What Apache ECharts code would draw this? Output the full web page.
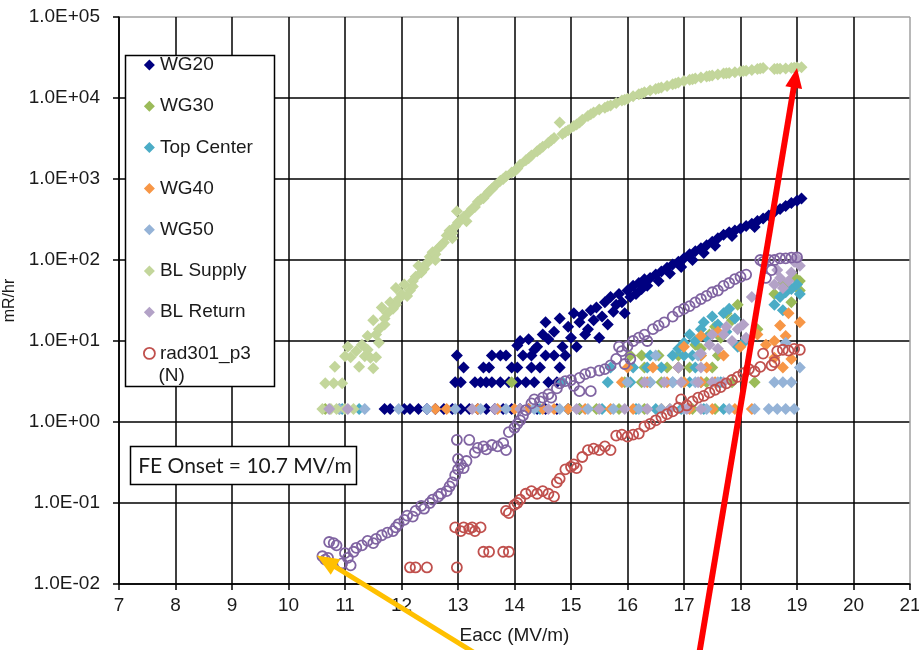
<!DOCTYPE html>
<html>
<head>
<meta charset="utf-8">
<script src="https://cdn.jsdelivr.net/npm/echarts@6/dist/echarts.min.js"></script>
<style>html,body{margin:0;padding:0;background:#fff}#c{width:919px;height:650px}</style>
</head>
<body>
<div id="c"></div>
<script>
// ---- data (x: Eacc MV/m, y: mR/hr) ----
const seriesNames = ['WG20','WG30','Top Center','WG40','WG50','BL Supply','BL Return','rad301_p3 (N)'];
const xTicks = [7,8,9,10,11,12,13,14,15,16,17,18,19,20,21];
const yTickExps = [-2,-1,0,1,2,3,4,5];

const wg20 = [
[11.7,1.45],[11.8,1.45],[12.05,1.45],[12.15,1.45],[12.3,1.45],[12.45,1.45],[12.6,1.45],[12.75,1.45],[12.9,1.45],[13.05,1.45],[13.2,1.45],[13.35,1.45],[13.5,1.45],[13.65,1.45],[13.8,1.45],[13.95,1.45],[14.1,1.45],[14.25,1.45],[14.4,1.45],[14.55,1.45],[14.75,1.45],[14.95,1.45],[15.15,1.45],
[12.95,3.1],[13.05,3.1],[13.3,3.1],[13.4,3.1],[13.5,3.1],[13.6,3.1],[13.75,3.1],[13.9,3.1],[14.05,3.1],[14.2,3.1],[14.35,3.1],[14.6,3.1],[14.75,3.1],
[13.1,4.7],[13.45,4.7],[13.55,4.7],[13.95,4.7],[14.05,4.7],[14.3,4.7],[14.45,4.7],[14.8,4.7],
[12.98,6.6],[13.6,6.6],[13.75,6.6],[13.85,6.6],[14.15,6.6],[14.3,6.6],[14.55,6.6],[14.7,6.6],[14.9,6.6],
[14.05,8.8],[14.4,8.5],[14.1,10],[14.35,7.8],[14.5,12],[14.25,10.5],
[14.55,17],[14.6,10.5],[14.7,13],[14.8,19],[14.85,8.5],[14.95,15],[15.0,11],[15.05,22],[15.1,8.5],[15.15,17],[15.2,21],[15.25,12],[15.3,14],[15.35,24],[15.4,18],[15.45,26],[15.5,11],[15.55,20],[15.6,30],[15.65,16],[15.7,35],[15.75,23],[15.8,28],[15.85,38],[15.9,30],[15.95,22],[16.0,42],[16.05,35],[16.1,48],[16.15,38],[16.2,52],[16.25,44],[16.3,58],[16.35,48],[16.4,60],[16.5,66],[16.55,55],[16.6,72],[16.7,80],[16.75,68],[16.8,88],[16.9,95],[16.95,82],[17.0,105],[17.1,118],[17.15,100],[17.2,128],[17.3,140],[17.35,122],[17.4,152],[17.5,168],[17.55,150],[17.6,185],[17.7,205],[17.8,220],[17.85,198],[17.9,232],[18.0,245],[18.1,262],[18.2,280],[18.25,255],[18.3,302],[18.4,325],[18.5,355],[18.6,390],[18.7,425],[18.8,465],[18.9,505],[19.0,540],[19.08,575]
];
const wg30 = [
[10.65,1.45],[10.9,1.45],[15.15,1.45],[15.45,1.45],[15.85,1.45],[16.3,1.45],[16.75,1.45],[17.15,1.45],[17.55,1.45],
[13.95,3.1],[15.95,3.1],[16.25,3.1],[16.6,3.1],[17.0,3.1],[17.4,3.1],[17.85,3.1],[18.25,3.1],
[16.3,4.7],[16.7,4.7],[17.1,4.7],[17.5,4.7],
[16.05,6.6],[16.25,6.6],[16.55,6.6],[16.9,6.6],[17.3,6.6],[17.6,6.6],
[17.2,9],[17.3,8],[17.45,12],[17.55,15],[17.65,11],[17.75,22],[17.85,18],[17.95,28],[18.3,14],[18.6,38],[18.75,52],[18.85,45],[18.95,62],[19.05,55],[19.05,42],[18.9,30]
];
const topCenter = [
[10.95,1.45],[11.25,1.45],[14.45,1.45],[14.95,1.45],[15.55,1.45],[16.15,1.45],[16.5,1.45],[16.95,1.45],[17.35,1.45],[17.7,1.45],
[14.85,3.1],[15.65,3.1],[16.05,3.1],[16.4,3.1],[16.8,3.1],[17.1,3.1],[17.3,3.1],[17.65,3.1],
[15.7,4.7],[16.1,4.7],[16.35,4.7],[16.6,4.7],[16.9,4.7],[17.2,4.7],
[16.4,6.6],[16.8,6.6],[17.0,6.6],[17.15,6.6],
[16.9,8],[17.0,9.5],[17.1,12],[17.2,10],[17.3,14],[17.35,17],[17.4,11],[17.5,20],[17.6,16],[17.7,22],[17.8,25],[17.9,19],[17.75,13],[17.95,8.5],[18.05,9.5],[18.6,28],[18.7,35],[18.8,40],[18.9,44],[19.0,50],[19.05,38],[18.75,24]
];
const wg40 = [
[12.6,1.45],[12.8,1.45],[13.35,1.45],[13.7,1.45],[14.0,1.45],[14.25,1.45],[14.5,1.45],[14.7,1.45],[14.95,1.45],[15.25,1.45],[15.7,1.45],[16.1,1.45],[16.6,1.45],[17.1,1.45],[17.5,1.45],[17.9,1.45],[18.2,1.45],
[15.9,3.1],[16.35,3.1],[16.7,3.1],[17.0,3.1],[17.3,3.1],[17.55,3.1],
[16.0,4.7],[16.45,4.7],[16.9,4.7],[17.4,4.7],[18.75,4.7],
[17.3,6.6],[17.7,6.6],
[17.0,8.5],[17.3,11.5],[17.6,13],[18.0,8.5],[18.3,12],[18.45,9],[18.6,10],[18.7,15.5],[18.8,11.5],[18.85,22],[19.05,17],[18.9,6],[18.6,6.2]
];
const wg50 = [
[10.9,1.45],[11.35,1.45],[11.95,1.45],[12.45,1.45],[12.95,1.45],[13.4,1.45],[13.85,1.45],[14.35,1.45],[14.8,1.45],[15.3,1.45],[15.75,1.45],[16.2,1.45],[16.6,1.45],[17.0,1.45],[17.4,1.45],[17.8,1.45],[18.25,1.45],[18.5,1.45],[18.65,1.45],[18.8,1.45],[18.95,1.45],
[16.0,3.1],[16.4,3.1],[16.8,3.1],[17.2,3.1],[17.6,3.1],[18.6,3.1],[18.75,3.1],[18.9,3.1],
[19.05,4.7],[16.5,6.6],[17.25,6.6],[18.8,9.5]
];
const blSupply = [
[10.65,3.0],[10.8,3.0],[10.95,3.0],[10.6,1.45],[10.75,1.45],[10.85,1.45],[11.0,1.45],[11.15,1.45],
[10.82,4.8],[11.0,6.5],[11.1,6.3],[11.2,7.5],[11.05,8.5],[11.3,9.0],[11.35,6.5],[11.45,6.2],[11.5,4.6],[11.25,4.8],[11.4,7.8],[11.6,9.5],[11.55,6.3],[11.4,11.5],[11.6,14],[11.5,18],[11.7,16],[11.75,22],[11.85,25],[11.65,26],[11.8,30],[11.95,33],[12.0,38],[11.9,45],[12.05,50],[12.15,42],[12.2,55],[12.25,62],[12.35,70],[12.3,85],[12.45,92],[12.5,110],[12.55,125],[12.6,118],[12.65,140],[12.75,165],[12.8,200],[12.85,230],[12.9,215],[12.95,260],[13.0,290],[12.98,400],[13.05,310],[13.1,340],[13.2,390],[13.3,450],[13.35,520],[13.4,560],[13.5,640],[13.55,700],[13.65,820],[13.75,950],[13.85,1080],[13.95,1200],[14.05,1350],[14.1,1500],[14.2,1700],[14.3,1950],[14.4,2200],[14.5,2500],[14.6,2800],[14.7,3200],[14.8,5000],[14.85,3600],[14.95,4000],[15.05,4500],[15.15,5000],[15.2,5400],[15.3,6000],[15.4,6600],[15.5,7200],[15.6,7600],[15.7,8100],[15.8,8700],[15.9,9300],[16.0,9800],[16.1,10500],[16.2,11100],[16.3,11800],[16.4,12400],[16.5,12900],[16.6,13500],[16.7,14100],[16.8,14800],[16.9,15500],[17.0,16200],[17.1,16800],[17.2,17400],[17.3,17900],[17.4,18400],[17.5,19000],[17.6,19500],[17.7,20000],[17.8,20400],[17.9,20800],[18.0,21200],[18.1,21700],[18.2,22200],[18.3,22800],[18.4,23400],[18.6,22800],[18.7,23000],[18.8,23200],[18.9,23500],[19.0,23800],[19.08,24000],
[11.55,12],[11.7,19],[11.9,28],[12.1,36],[12.2,47],[12.4,78],[12.6,100],[12.7,150],[12.9,185],[13.15,300],[13.25,430],[13.45,580],[13.6,750],[13.8,1000],[14.0,1250],[14.25,1800],[14.45,2350],[14.65,3000],[14.9,3800],[15.1,4700],[15.35,6300],[15.65,7900],[15.95,9500],[16.25,11400],[16.55,13200],[16.85,15100],[17.15,17100],[17.45,18700],[17.75,20200],[18.05,21500],[18.35,23100],[18.65,22900],[18.95,23600]
];
const blReturn = [
[10.72,1.45],[11.05,1.45],[13.25,1.45],[13.65,1.45],[14.1,1.45],[14.6,1.45],[15.1,1.45],[15.5,1.45],[15.95,1.45],[16.35,1.45],[16.75,1.45],[17.05,1.45],[17.3,1.45],
[16.3,3.1],[16.65,3.1],[16.95,3.1],[17.25,3.1],[17.5,3.1],[17.7,3.1],
[16.9,4.7],[17.3,4.7],
[17.3,7],[17.45,9],[17.6,8],[17.5,12],[17.7,12],[17.75,15],[17.85,10],[17.95,14],[18.05,16],[18.1,11],[18.2,35],[18.6,50],[18.7,60],[18.75,45],[18.85,55],[18.9,70],[18.95,95],[19.0,105],[19.05,85],[18.65,75]
];
const rad301 = [
[12.15,0.016],[12.25,0.016],[12.45,0.016],[12.98,0.016],[12.95,0.05],[13.05,0.045],[13.1,0.05],[13.2,0.048],[13.25,0.05],[13.3,0.045],[13.4,0.05],[13.45,0.025],[13.55,0.025],[13.8,0.025],[13.9,0.025],[13.85,0.08],[13.9,0.075],[14.0,0.095],[14.05,0.1],[14.1,0.11],[14.2,0.13],[14.3,0.14],[14.4,0.13],[14.5,0.14],[14.6,0.13],[14.7,0.12],[14.75,0.18],[14.8,0.2],[14.9,0.26],[15.0,0.28],[15.05,0.3],[15.1,0.27],[15.2,0.37],[15.3,0.45],[15.4,0.47],[15.5,0.45],[15.6,0.5],[15.7,0.45],[15.8,0.68],[15.9,0.7],[16.0,0.66],[16.1,0.7],[16.2,0.72],[16.3,0.88],[16.4,0.95],[16.5,1.05],[16.6,1.15],[16.7,1.25],[16.8,1.35],[16.9,1.5],[16.95,1.9],[17.05,1.6],[17.15,1.8],[17.25,2.0],[17.35,2.1],[17.45,2.3],[17.55,2.5],[17.65,2.7],[17.75,3.0],[17.85,3.3],[17.95,3.6],[18.05,4.0],[18.15,4.5],[18.25,4.2],[18.35,4.8],[18.4,7.0],[18.55,5.0],[18.6,5.5],[18.65,7.5],[18.75,7.8],[18.85,7.6],[18.95,8.0],[19.05,7.8]
];
const rad301b = [
[10.6,0.022],[10.65,0.02],[10.7,0.021],[10.72,0.033],[10.8,0.032],[10.85,0.03],[10.95,0.018],[11.0,0.024],[11.05,0.021],[11.1,0.017],[11.15,0.025],[11.2,0.028],[11.3,0.03],[11.4,0.034],[11.5,0.032],[11.55,0.036],[11.65,0.04],[11.75,0.043],[11.85,0.045],[11.9,0.05],[11.95,0.055],[12.05,0.062],[12.1,0.07],[12.2,0.068],[12.25,0.08],[12.35,0.092],[12.4,0.085],[12.5,0.1],[12.55,0.11],[12.65,0.12],[12.7,0.13],[12.8,0.14],[12.85,0.16],[12.9,0.18],[12.95,0.22],[13.0,0.26],[13.0,0.35],[12.98,0.6],[13.05,0.3],[13.1,0.27],[13.15,0.33],[13.2,0.6],[13.3,0.42],[13.35,0.48],[13.45,0.5],[13.5,0.46],[13.6,0.52],[13.7,0.5],[13.8,0.55],[13.85,0.45],[13.9,0.75],[14.0,0.85],[14.05,0.95],[14.1,1.05],[14.15,1.2],[14.2,1.4],[14.3,1.7],[14.35,1.9],[14.45,1.8],[14.5,2.0],[14.6,2.2],[14.65,2.0],[14.75,2.6],[14.8,3.0],[14.9,3.2],[15.0,3.3],[15.05,2.8],[15.15,3.5],[15.25,3.9],[15.35,4.1],[15.5,4.3],[15.6,4.5],[15.7,5.0],[15.8,6.0],[15.85,8.5],[15.9,7.5],[16.0,8.6],[16.1,10],[16.2,11],[16.3,12],[16.35,10],[16.45,14],[16.55,15.5],[16.65,17],[16.8,20],[16.9,23],[17.0,25],[17.1,27],[17.2,30],[17.3,33],[17.4,36],[17.5,40],[17.6,42],[17.7,48],[17.8,52],[17.9,58],[18.0,62],[18.1,66],[18.35,100],[18.4,95],[18.5,100],[18.6,100],[18.7,105],[18.8,105],[18.9,107],[19.0,108],[18.55,75],[18.45,60],[15.15,2.4],[15.35,2.4],[16.05,6],[15.95,5.2]
];
// annotation targets (data coords)
const yellowTip = [10.5, 0.0225];
const redTip = [19.0, 23500];

const colors = ['#000080','#9BBB59','#4BACC6','#F79646','#95B3D7','#C3D69B','#B3A2C7','#C0504D','#8064A2'];
const FONT = '"Liberation Sans", Arial, sans-serif';

function diamondSeries(name, data, color) {
  return {name, type:'scatter', data, symbol:'diamond', symbolSize:[12,12],
    itemStyle:{color, opacity:1}, emphasis:{disabled:true}, silent:true, animation:false};
}
function circleSeries(name, data, color) {
  return {name, type:'scatter', data, symbol:'circle', symbolSize:10,
    itemStyle:{color:'rgba(0,0,0,0)', borderColor:color, borderWidth:1.8, opacity:1},
    emphasis:{disabled:true}, silent:true, animation:false};
}

const xLineColors = xTicks.map((t,i)=> i===xTicks.length-1 ? '#a0a0a0' : '#000');
const yLineColors = yTickExps.map((t,i)=> i===yTickExps.length-1 ? '#a0a0a0' : '#000');

const chart = echarts.init(document.getElementById('c'), null, {renderer:'canvas'});
const option = {
  animation:false,
  backgroundColor:'#fff',
  textStyle:{fontFamily:FONT},
  grid:{left:119, right:9, top:17, bottom:66, containLabel:false, outerBoundsMode:'none'},
  xAxis:{type:'value', min:7, max:21, interval:1,
    name:'Eacc (MV/m)', nameLocation:'middle', nameGap:42,
    nameTextStyle:{fontSize:19, color:'#1a1a1a', fontFamily:FONT},
    axisLine:{lineStyle:{color:'#000', width:1.5}},
    axisTick:{show:true, length:6, inside:false, lineStyle:{color:'#000', width:1.5}},
    axisLabel:{fontSize:19, color:'#1a1a1a', margin:12, fontFamily:FONT},
    splitLine:{show:true, showMinLine:true, showMaxLine:true, lineStyle:{color:xLineColors, width:1.5}}
  },
  yAxis:{type:'log', logBase:10, min:0.01, max:100000,
    name:'mR/hr', nameLocation:'middle', nameGap:100, nameRotate:90,
    nameTextStyle:{fontSize:16, color:'#1a1a1a', fontFamily:FONT},
    axisLine:{show:true, lineStyle:{color:'#000', width:1.5}},
    axisTick:{show:true, length:6, lineStyle:{color:'#000', width:1.5}},
    axisLabel:{fontSize:19, color:'#1a1a1a', margin:19, fontFamily:FONT,
      formatter:function(v){ const e=Math.round(Math.log10(v)); return '1.0E'+(e<0?'-':'+')+String(Math.abs(e)).padStart(2,'0'); }},
    splitLine:{show:true, showMinLine:true, showMaxLine:true, lineStyle:{color:yLineColors, width:1.5}}
  },
  legend:{
    orient:'vertical', left:143, top:54, padding:0, itemGap:19.2,
    itemWidth:11, itemHeight:11, z:10,
    textStyle:{fontSize:19, color:'#1a1a1a', lineHeight:22, fontFamily:FONT},
    selectedMode:false,
    formatter:function(n){ return n==='rad301_p3 (N)' ? 'rad301_p3' : n; },
    data: seriesNames.map((n,i)=> i===7
      ? {name:n, icon:'circle', itemStyle:{color:'rgba(0,0,0,0)', borderColor:colors[7], borderWidth:1.8}}
      : {name:n, icon:'diamond', itemStyle:{color:colors[i]}})
  },
  series:[
    diamondSeries('WG20', wg20, colors[0]),
    diamondSeries('WG30', wg30, colors[1]),
    diamondSeries('Top Center', topCenter, colors[2]),
    diamondSeries('WG40', wg40, colors[3]),
    diamondSeries('WG50', wg50, colors[4]),
    diamondSeries('BL Supply', blSupply, colors[5]),
    diamondSeries('BL Return', blReturn, colors[6]),
    circleSeries('rad301_p3 (N)', rad301, colors[7]),
    circleSeries('rad301_p2', rad301b, colors[8])
  ]
};
chart.setOption(option);

function arrow(tail, tip, color, width, headLen, headW) {
  const dx = tip[0]-tail[0], dy = tip[1]-tail[1];
  const L = Math.sqrt(dx*dx+dy*dy), ux = dx/L, uy = dy/L;
  const bx = tip[0]-ux*headLen, by = tip[1]-uy*headLen;
  const px = -uy, py = ux;
  return [
    {type:'line', z:20, silent:true, shape:{x1:tail[0], y1:tail[1], x2:bx+ux*2, y2:by+uy*2},
      style:{stroke:color, lineWidth:width, lineCap:'butt'}},
    {type:'polygon', z:20, silent:true, shape:{points:[[tip[0],tip[1]],[bx+px*headW/2, by+py*headW/2],[bx-px*headW/2, by-py*headW/2]]},
      style:{fill:color}}
  ];
}
const yT = chart.convertToPixel({xAxisIndex:0, yAxisIndex:0}, yellowTip);
const rT = chart.convertToPixel({xAxisIndex:0, yAxisIndex:0}, redTip);

chart.setOption({
  graphic:[
    {type:'rect', z:3, silent:true, shape:{x:125.5, y:55.5, width:149, height:331},
      style:{fill:'#fff', stroke:'#000', lineWidth:1.5}},
    {type:'text', z:11, silent:true, x:158.5, y:366, style:{text:'(N)', font:'19px '+FONT, fill:'#1a1a1a'}},
    {type:'rect', z:3, silent:true, shape:{x:130.5, y:446.5, width:226, height:38},
      style:{fill:'#fff', stroke:'#000', lineWidth:1.5}},
    {type:'text', z:11, silent:true, x:245, y:466, style:{text:'FE Onset = 10.7 MV/m', font:'21px Lato, "Open Sans", sans-serif', fill:'#1a1a1a', align:'center', verticalAlign:'middle'}},
    ...arrow([478,655], yT, '#FFC000', 5, 22, 18),
    ...arrow([699,655], rT, '#FF0000', 6, 20, 17)
  ]
});
</script>
</body>
</html>
